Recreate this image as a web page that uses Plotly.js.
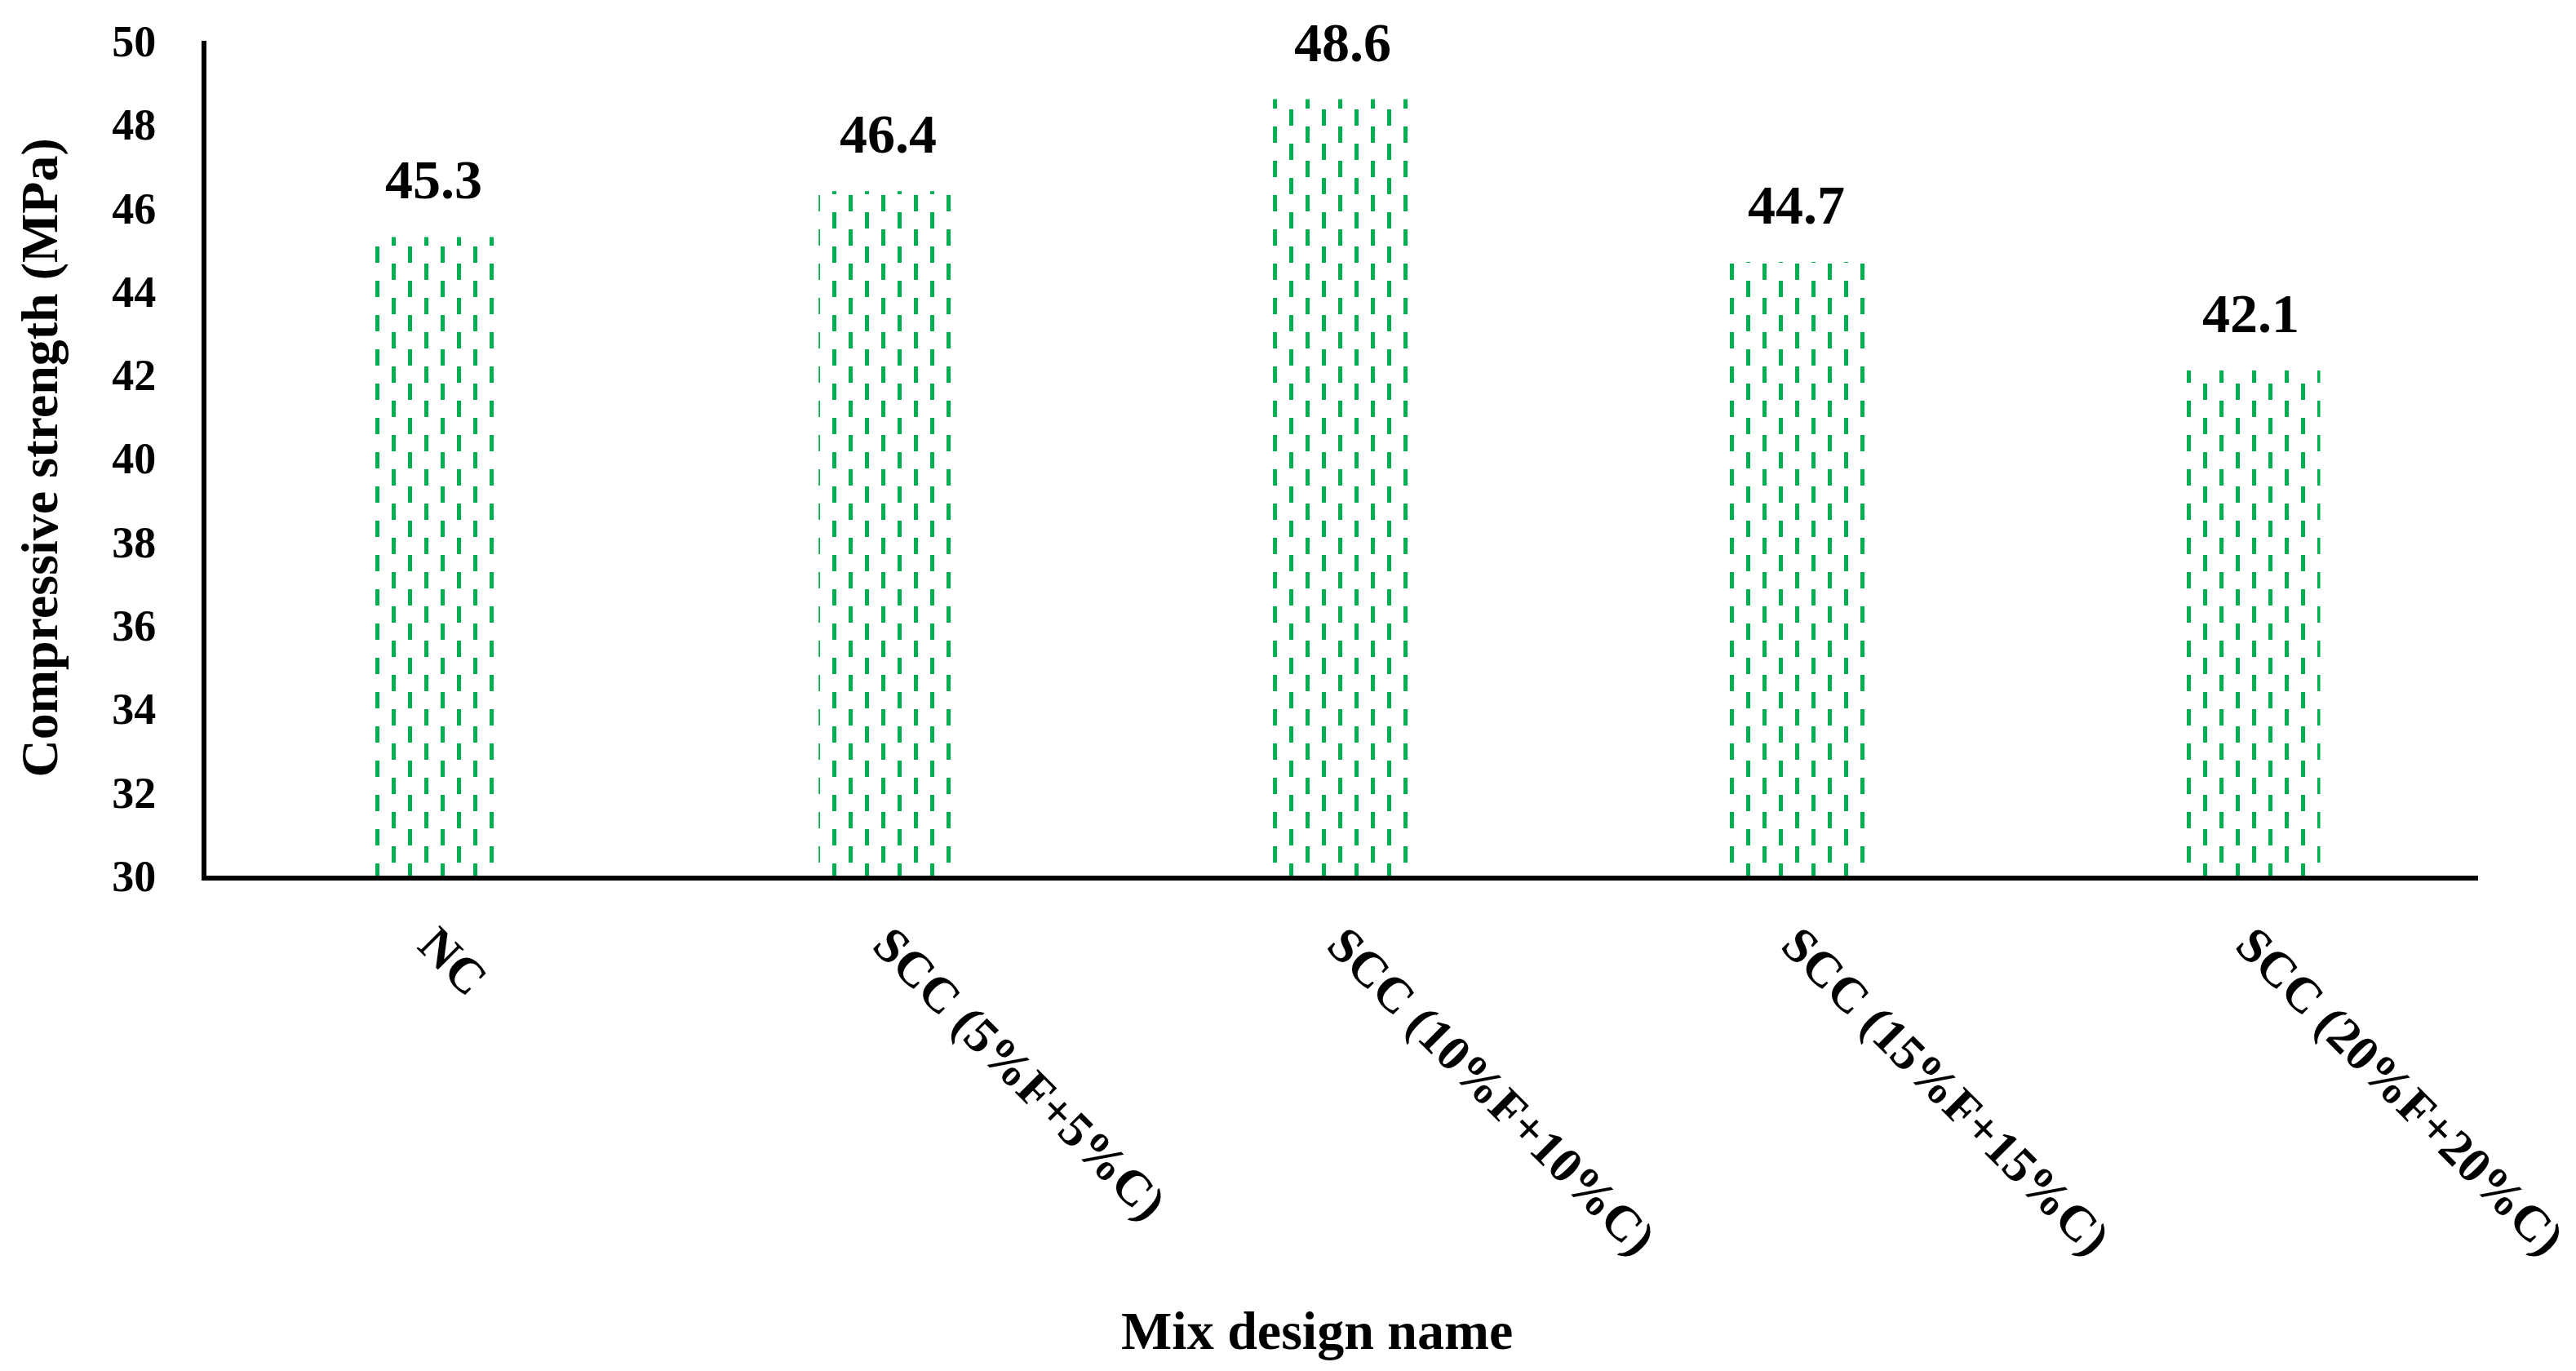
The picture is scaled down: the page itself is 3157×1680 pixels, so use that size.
<!DOCTYPE html>
<html>
<head>
<meta charset="utf-8">
<script src="https://cdn.plot.ly/plotly-3.0.1.min.js"></script>
<style>html,body{margin:0;padding:0;background:#fff;}#chart{width:3157px;height:1680px;}</style>
</head>
<body>
<div id="chart"></div>
<script>
const categories = ["NC", "SCC (5%F+5%C)", "SCC (10%F+10%C)", "SCC (15%F+15%C)", "SCC (20%F+20%C)"];
const strengthMPa = [45.3, 46.4, 48.6, 44.7, 42.1];
const yTickValues = [30, 32, 34, 36, 38, 40, 42, 44, 46, 48, 50];
const xTitle = "Mix design name";
const yTitle = "Compressive strength (MPa)";

const W = 3157, H = 1680;
const M = {l: 253, r: 120, t: 50, b: 607};
const plotW = W - M.l - M.r, plotH = H - M.t - M.b;
const yMin = 30, yMax = 50;
const FONT = '"Liberation Serif", "Times New Roman", serif';
const GREEN = '#00B050';

const trace = {
  type: 'bar',
  x: categories,
  y: strengthMPa,
  width: 0.305,
  marker: {
    color: '#ffffff',
    line: {width: 0},
    pattern: {shape: '|', fgcolor: GREEN, bgcolor: '#ffffff', size: 20, solidity: 0.25}
  },
  hoverinfo: 'x+y'
};

const annotations = categories.map((c, i) => ({
  x: c, y: strengthMPa[i], xref: 'x', yref: 'y',
  text: '<b>' + strengthMPa[i].toFixed(1) + '</b>',
  showarrow: false, yanchor: 'middle',
  yshift: 70,
  font: {family: FONT, size: 68, color: '#000'}
}));
annotations.push({
  xref: 'paper', yref: 'paper', x: (1614 - M.l) / plotW, y: (M.t + plotH - 1630) / plotH,
  text: '<b>' + xTitle + '</b>', showarrow: false, xanchor: 'center', yanchor: 'middle',
  font: {family: FONT, size: 66, color: '#000'}
});
annotations.push({
  xref: 'paper', yref: 'paper', x: (48 - M.l) / plotW, y: 0.5,
  text: '<b>' + yTitle + '</b>', showarrow: false, textangle: -90,
  xanchor: 'center', yanchor: 'middle',
  font: {family: FONT, size: 64, color: '#000'}
});

const layout = {
  width: W, height: H,
  margin: M,
  paper_bgcolor: '#fff', plot_bgcolor: '#fff',
  showlegend: false,
  font: {family: FONT, color: '#000'},
  xaxis: {
    type: 'category',
    showline: true, linecolor: '#000', linewidth: 6,
    showgrid: false, zeroline: false, ticks: '',
    tickangle: 45,
    ticklabelstandoff: 18,
    tickfont: {family: FONT, size: 61, color: '#000', weight: 'bold'},
    automargin: false
  },
  yaxis: {
    range: [yMin, yMax],
    tickvals: yTickValues,
    showline: true, linecolor: '#000', linewidth: 6,
    showgrid: false, zeroline: false, ticks: '',
    ticklabelstandoff: 45,
    tickfont: {family: FONT, size: 54, color: '#000', weight: 'bold'},
    automargin: false
  },
  annotations: annotations
};

Plotly.newPlot('chart', [trace], layout, {displayModeBar: false, staticPlot: true}).then(gd => {
  // Restyle the bar fill pattern as staggered short vertical dashes (Excel "dashed vertical" fill)
  const NS = 'http://www.w3.org/2000/svg';
  gd.querySelectorAll('pattern').forEach(p => {
    const tw = 40, th = 42, dw = 5, dh = 20;
    p.setAttribute('width', tw);
    p.setAttribute('height', th);
    while (p.firstChild) p.removeChild(p.firstChild);
    const bg = document.createElementNS(NS, 'rect');
    bg.setAttribute('x', 0); bg.setAttribute('y', 0);
    bg.setAttribute('width', tw); bg.setAttribute('height', th);
    bg.setAttribute('fill', '#ffffff');
    p.appendChild(bg);
    [[0, 0], [20, 21]].forEach(([dx, dy]) => {
      const r = document.createElementNS(NS, 'rect');
      r.setAttribute('x', dx + 7); r.setAttribute('y', dy);
      r.setAttribute('width', dw); r.setAttribute('height', dh);
      r.setAttribute('fill', GREEN);
      p.appendChild(r);
    });
  });
});
</script>
</body>
</html>
